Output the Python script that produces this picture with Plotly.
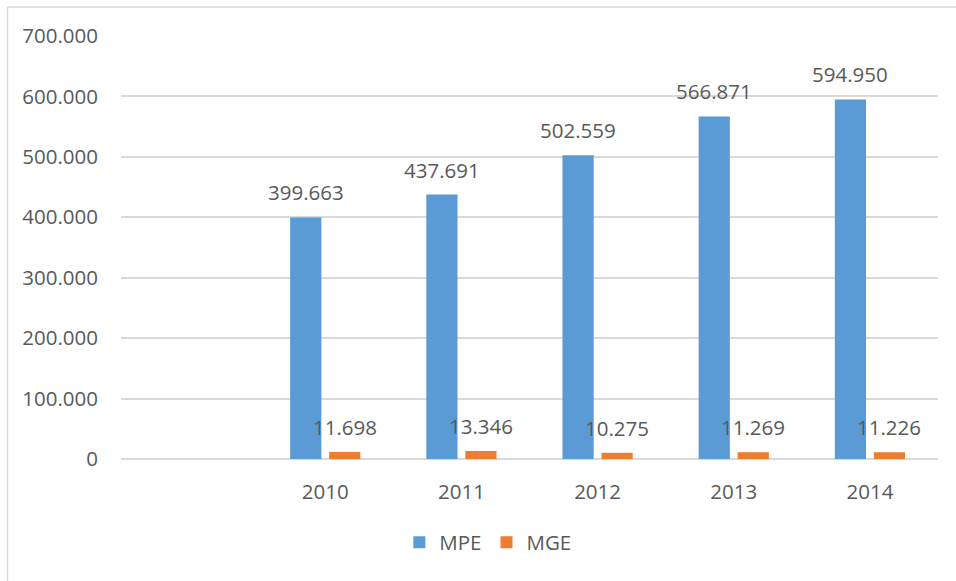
import plotly.graph_objects as go

categories = [" ", "2010", "2011", "2012", "2013", "2014"]
mpe = [None, 399663, 437691, 502559, 566871, 594950]
mge = [None, 11698, 13346, 10275, 11269, 11226]
mpe_labels = ["", "399.663", "437.691", "502.559", "566.871", "594.950"]
mge_labels = ["", "11.698", "13.346", "10.275", "11.269", "11.226"]
y_ticks = [0, 100000, 200000, 300000, 400000, 500000, 600000, 700000]
y_tick_text = ["0", "100.000", "200.000", "300.000", "400.000", "500.000", "600.000", "700.000"]

BLUE = "#5B9BD5"
ORANGE = "#ED7D31"
TXT = "#595959"
GRID = "#D9D9D9"
FONT = "Open Sans"
FS = 20.5

fig = go.Figure()
fig.add_trace(go.Bar(x=categories, y=mpe, name="MPE", marker=dict(color=BLUE, line=dict(width=0))))
fig.add_trace(go.Bar(x=categories, y=mge, name="MGE", marker=dict(color=ORANGE, line=dict(width=0))))

annotations = []
for i, (v, t) in enumerate(zip(mpe, mpe_labels)):
    if v is None:
        continue
    annotations.append(dict(x=i, y=v, text=t, xref="x", yref="y", showarrow=False,
                            xshift=-19.5, yshift=25, yanchor="middle",
                            font=dict(family=FONT, size=FS, color=TXT)))
for i, (v, t) in enumerate(zip(mge, mge_labels)):
    if v is None:
        continue
    annotations.append(dict(x=i, y=v, text=t, xref="x", yref="y", showarrow=False,
                            xshift=19.5, yshift=25, yanchor="middle",
                            font=dict(family=FONT, size=FS, color=TXT)))

fig.update_layout(
    width=956, height=581,
    margin=dict(l=121, r=18, t=36, b=121.5),
    paper_bgcolor="white", plot_bgcolor="white",
    font=dict(family=FONT, size=FS, color=TXT),
    barmode="group", bargap=0.427, bargroupgap=0.2,
    showlegend=True,
    legend=dict(orientation="h", x=0.449, xanchor="center", y=-0.197, yanchor="middle",
                font=dict(family=FONT, size=FS, color=TXT), itemwidth=30,
                bgcolor="rgba(0,0,0,0)"),
    annotations=annotations,
    shapes=[
        dict(type="line", xref="paper", yref="paper", x0=-0.1389, x1=-0.1389, y0=-0.3, y1=1.0685,
             line=dict(color=GRID, width=1.5)),
        dict(type="line", xref="paper", yref="paper", x0=-0.1389, x1=1.03, y0=1.0685, y1=1.0685,
             line=dict(color=GRID, width=1.5)),
    ],
)
fig.update_xaxes(type="category", range=[-0.5, len(categories) - 0.5],
                 showgrid=False, showline=False, zeroline=False, ticks="",
                 ticklabelstandoff=18, tickfont=dict(family=FONT, size=FS, color=TXT))
fig.update_yaxes(range=[0, 700000], tickvals=y_ticks, ticktext=y_tick_text,
                 showgrid=True, gridcolor=GRID, gridwidth=1.5, zeroline=True,
                 zerolinecolor=GRID, zerolinewidth=1.5, showline=False, ticks="",
                 ticklabelstandoff=22, tickfont=dict(family=FONT, size=FS, color=TXT))

fig.write_html("out.html")
